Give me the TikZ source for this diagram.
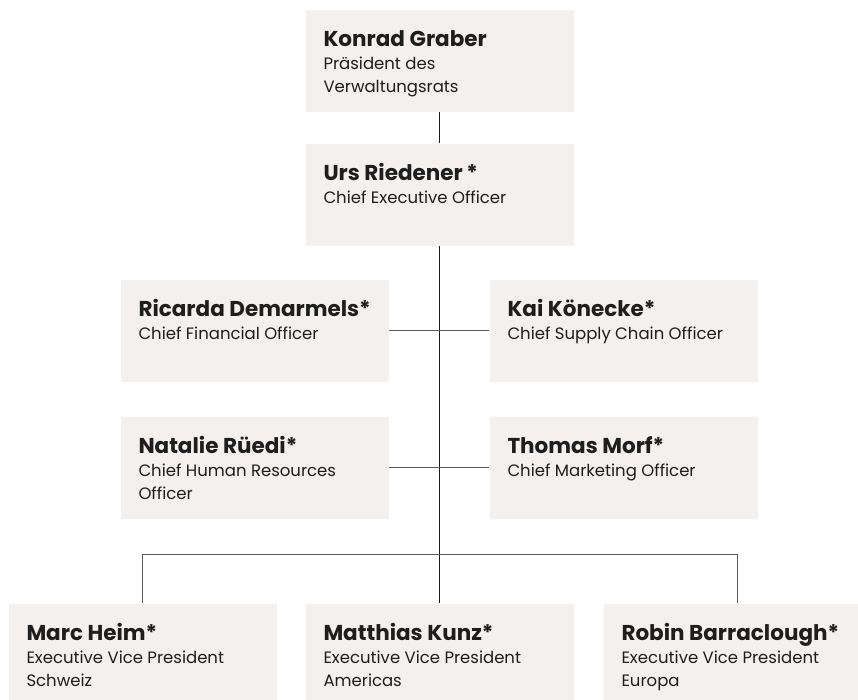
\documentclass[tikz,border=0pt]{standalone}
\usepackage{fontspec}
\setmainfont{Poppins}

\definecolor{cardfill}{HTML}{F3F0ED}
\definecolor{inktext}{HTML}{1E1E1E}
\definecolor{mainline}{HTML}{1A1A1A}
\definecolor{sideline}{HTML}{5A5A5A}

\tikzset{
  card/.style={fill=cardfill, minimum width=268pt, minimum height=102pt, inner sep=0pt, anchor=north west},
  who/.style={anchor=base west, inner sep=0pt, text=inktext, font=\fontsize{21.5}{25}\selectfont\bfseries},
  role/.style={anchor=base west, inner sep=0pt, text=inktext, font=\fontsize{16.5}{23}\selectfont}
}

% box, name and role of one member
\newcommand{\member}[5]{%
  \node[card] (#1) at (#2,#3) {};
  \node[who] (#1n) at ([shift={(18,37)}]#1.north west) {#4};
  \node[role] (#1r) at ([shift={(18,60)}]#1.north west)
    {\begin{tabular}[t]{@{}l@{}}#5\end{tabular}};
}

\begin{document}
\begin{tikzpicture}[x=1pt, y=-1pt, line width=1pt]

\clip (0,0) rectangle (858,699);
\useasboundingbox (0,0) rectangle (858,699);

\member{kg}{305}{9}{Konrad Graber}{Präsident des\\Verwaltungsrats}
\member{ur}{305}{143}{Urs Riedener\,*}{Chief Executive Officer}

\member{rd}{120}{279}{Ricarda Demarmels*}{Chief Financial Officer}
\member{kk}{489}{279}{Kai Könecke*}{Chief Supply Chain Officer}

\member{nr}{120}{416}{Natalie Rüedi*}{Chief Human Resources\\Officer}
\member{tm}{489}{416}{Thomas Morf*}{Chief Marketing Officer}

\member{mh}{8}{603}{Marc Heim*}{Executive Vice President\\Schweiz}
\member{mk}{305}{603}{Matthias Kunz*}{Executive Vice President\\Americas}
\member{rb}{603}{603}{Robin Barraclough*}{Executive Vice President\\Europa}

\draw[mainline] (kg.south)--(ur.north);
\draw[mainline] (ur.south)--(mk.north);

\draw[sideline] (rd.east)--(kk.west);
\draw[sideline] (nr.east)--(tm.west);

\coordinate (bus) at (439,554);
\draw[sideline] (mh.north) |- (bus) -| (rb.north);

\end{tikzpicture}
\end{document}
